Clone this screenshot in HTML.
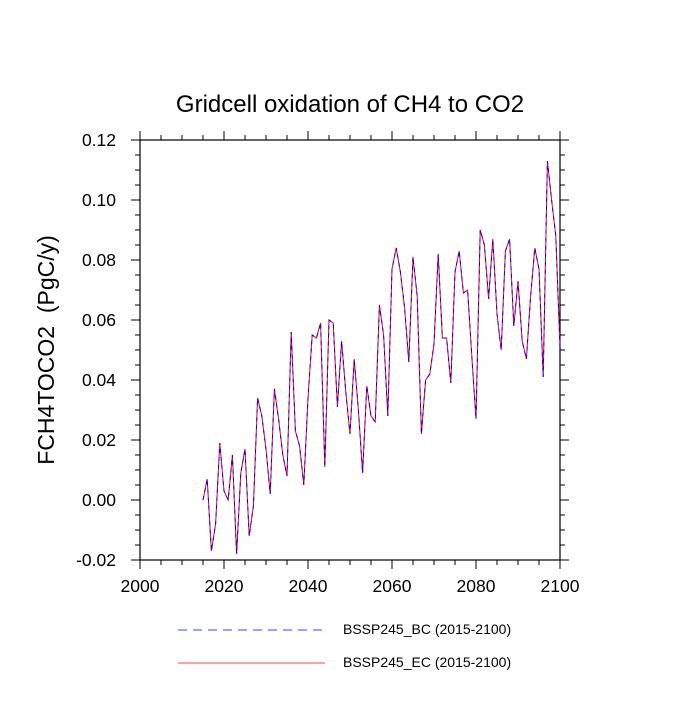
<!DOCTYPE html>
<html><head><meta charset="utf-8"><style>
body{margin:0;background:#fff}
svg{font-family:"Liberation Sans",sans-serif}
</style></head><body>
<svg id="c" width="700" height="700" viewBox="0 0 700 700">
<rect width="700" height="700" fill="#fff"/>
<text x="350" y="112" font-size="24" text-anchor="middle">Gridcell oxidation of CH4 to CO2</text>
<text transform="translate(54,350) rotate(-90)" font-size="23" text-anchor="middle">FCH4TOCO2&#160; (PgC/y)</text>
<g id="ax"></g>
<g id="lines"></g>
<g>
<line x1="178" y1="630" x2="325" y2="630" stroke="#0000ff" stroke-width="0.8" stroke-dasharray="9,6"/>
<text x="343" y="634" font-size="14">BSSP245_BC (2015-2100)</text>
<line x1="178" y1="663" x2="325" y2="663" stroke="#ff0000" stroke-width="0.8"/>
<text x="343" y="667" font-size="14">BSSP245_EC (2015-2100)</text>
</g>
</svg>
<script>
const years=[];for(let y=2015;y<=2100;y++)years.push(y);
const valuesEC=[0.000,0.007,-0.017,-0.008,0.019,0.003,0.000,0.015,-0.018,0.009,0.017,-0.012,-0.002,0.034,0.028,0.017,0.002,0.037,0.027,0.015,0.008,0.056,0.023,0.018,0.005,0.034,0.055,0.054,0.059,0.011,0.060,0.059,0.031,0.053,0.036,0.022,0.047,0.030,0.009,0.038,0.028,0.026,0.065,0.055,0.028,0.077,0.084,0.076,0.064,0.046,0.081,0.068,0.022,0.040,0.042,0.052,0.082,0.054,0.054,0.039,0.076,0.083,0.069,0.070,0.048,0.027,0.090,0.085,0.067,0.087,0.062,0.050,0.083,0.087,0.058,0.073,0.053,0.047,0.068,0.084,0.077,0.041,0.113,0.100,0.088,0.051];
const valuesBC=valuesEC.slice();
const xTicks=[2000,2020,2040,2060,2080,2100];
const yTicks=[-0.02,0.00,0.02,0.04,0.06,0.08,0.10,0.12];
const X0=140,X1=560,Y0=140,Y1=560,xmin=2000,xmax=2100,ymin=-0.02,ymax=0.12;
const sx=v=>X0+(v-xmin)/(xmax-xmin)*(X1-X0);
const sy=v=>Y1-(v-ymin)/(ymax-ymin)*(Y1-Y0);
const NS="http://www.w3.org/2000/svg";
const ax=document.getElementById('ax');
function mk(t,a,p){const e=document.createElementNS(NS,t);for(const k in a)e.setAttribute(k,a[k]);(p||ax).appendChild(e);return e;}
const fr=mk('rect',{x:X0,y:Y0,width:X1-X0,height:Y1-Y0,fill:'none',stroke:'#000','stroke-width':1.2});


for(let v=xmin;v<=xmax;v+=5){const L=v%20===0?9:5;const x=sx(v);
mk('line',{x1:x,y1:Y1,x2:x,y2:Y1+L,stroke:'#000'});mk('line',{x1:x,y1:Y0,x2:x,y2:Y0-L,stroke:'#000'});}
for(let i=0;i<=28;i++){const v=ymin+i*0.005;const L=i%4===0?9:5;const y=sy(v);
mk('line',{x1:X0,y1:y,x2:X0-L,y2:y,stroke:'#000'});mk('line',{x1:X1,y1:y,x2:X1+L,y2:y,stroke:'#000'});}
xTicks.forEach(v=>{const t=mk('text',{x:sx(v),y:Y1+32,'font-size':17.5,'text-anchor':'middle'});t.textContent=v;

});
yTicks.forEach(v=>{const t=mk('text',{x:X0-24,y:sy(v)+6,'font-size':17.5,'text-anchor':'end'});t.textContent=v.toFixed(2);

});
const lg=document.getElementById('lines');
function pts(a){return a.map((v,i)=>sx(years[i]).toFixed(1)+','+sy(v).toFixed(1)).join(' ');}
const ec=mk('polyline',{points:pts(valuesEC),fill:'none',stroke:'#ff0000','stroke-width':1},lg);


const bc=mk('polyline',{points:pts(valuesBC),fill:'none',stroke:'#0000ff','stroke-width':1,'stroke-dasharray':'4,4'},lg);


</script>
</body></html>
